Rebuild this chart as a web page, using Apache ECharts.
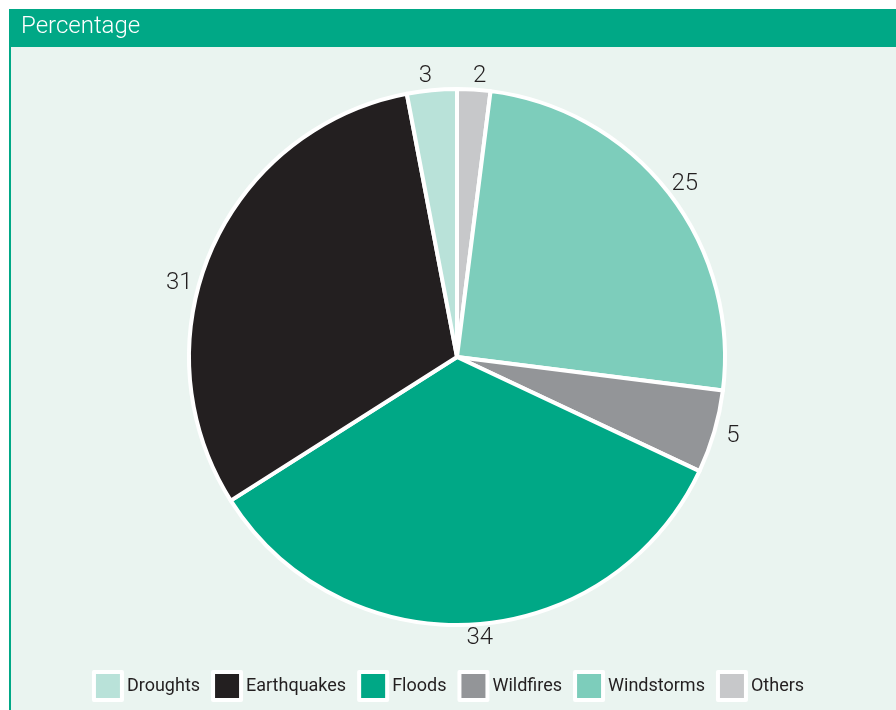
<!DOCTYPE html>
<html>
<head>
<meta charset="utf-8">
<script src="https://cdn.jsdelivr.net/npm/echarts@6/dist/echarts.min.js"></script>
<style>
  html, body { margin: 0; padding: 0; background: #ffffff; }
  #chart { width: 896px; height: 710px; }
</style>
</head>
<body>
<div id="chart"></div>
<script>
// legend order
var categories = ['Droughts', 'Earthquakes', 'Floods', 'Wildfires', 'Windstorms', 'Others'];
var values = [3, 31, 34, 5, 25, 2];
var colors = ['#b9e2d9', '#231f20', '#00a886', '#939598', '#7dcdbb', '#c7c8ca'];
// slices go clockwise from 12 o'clock in this order
var sliceOrder = ['Others', 'Windstorms', 'Wildfires', 'Floods', 'Earthquakes', 'Droughts'];

var font = '"Roboto", sans-serif';

var pieData = [];
for (var i = 0; i < sliceOrder.length; i++) {
	var k = categories.indexOf(sliceOrder[i]);
	pieData.push({
		name: categories[k],
		value: values[k],
		itemStyle: { color: colors[k] }
	});
}

var option = {
	backgroundColor: '#ffffff',
	animation: false,
	graphic: [
		{ type: 'rect', shape: { x: 9, y: 47, width: 887, height: 663 }, style: { fill: '#eaf4f0' }, z: 0 },
		{ type: 'rect', shape: { x: 9, y: 47, width: 2, height: 663 }, style: { fill: '#00a886' }, z: 1 },
		{ type: 'rect', shape: { x: 9, y: 9, width: 887, height: 38 }, style: { fill: '#00a886' }, z: 1 },
		{
			type: 'text', left: 21, top: 15, z: 2,
			style: { text: 'Percentage', fill: '#ffffff', font: '300 24px ' + font }
		}
	],
	legend: {
		data: categories,
		top: 665,
		left: 'center',
		icon: 'rect',
		itemWidth: 28,
		itemHeight: 28,
		itemGap: 11,
		itemStyle: { borderColor: '#ffffff', borderWidth: 4 },
		textStyle: { fontFamily: font, fontSize: 18, color: '#231f20' }
	},
	series: [
		{
			type: 'pie',
			center: [457, 357],
			radius: 268,
			startAngle: 90,
			clockwise: true,
			data: pieData,
			itemStyle: { borderColor: '#ffffff', borderWidth: 4 },
			label: {
				show: true,
				position: 'outside',
				formatter: '{c}',
				fontFamily: font,
				fontSize: 24,
				fontWeight: 300,
				color: '#231f20'
			},
			labelLine: { show: false, length: 14, length2: 0 },
			labelLayout: function (params) {
				var lay = { align: 'center', verticalAlign: 'middle' };
				// the earthquake label sits lower down the arc in the original
				if (pieData[params.dataIndex].name === 'Earthquakes') {
					lay.dy = 38;
					lay.dx = -14;
				}
				return lay;
			},
			emphasis: { disabled: true }
		}
	]
};

var mychart = echarts.init(document.getElementById('chart'));
mychart.setOption(option);
</script>
</body>
</html>
